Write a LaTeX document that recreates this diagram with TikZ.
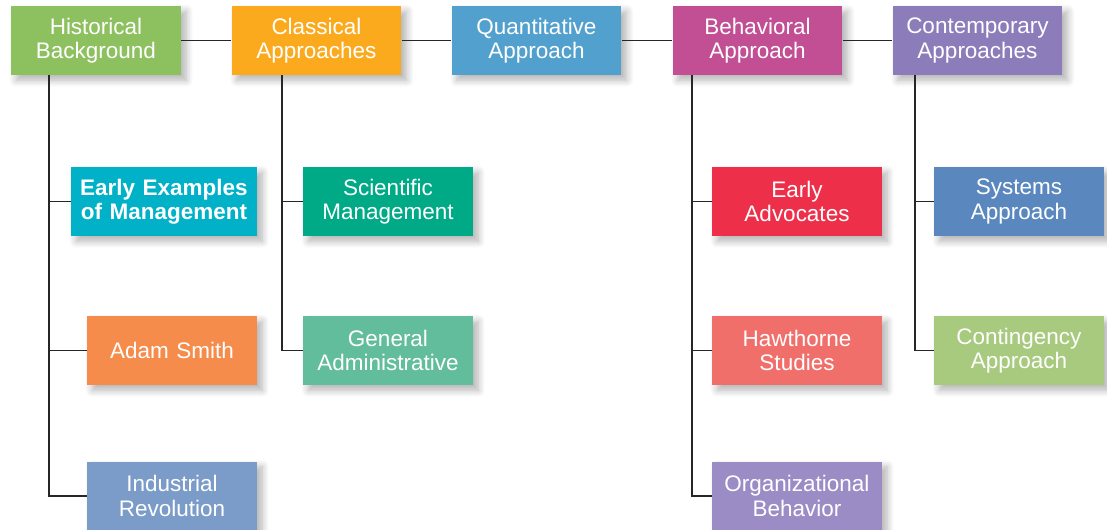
\documentclass[tikz,border=0pt]{standalone}
\usepackage{fontspec}
\setmainfont{Liberation Sans}
\usepackage{tikz}
\usetikzlibrary{shadows.blur}

\definecolor{histgreen}{HTML}{8DC05F}
\definecolor{classorange}{HTML}{FBAA1E}
\definecolor{quantblue}{HTML}{52A0CD}
\definecolor{behavpink}{HTML}{C24E94}
\definecolor{contpurple}{HTML}{8C7DBA}
\definecolor{earlycyan}{HTML}{00B1C8}
\definecolor{smithorange}{HTML}{F58C4B}
\definecolor{indublue}{HTML}{7B9BC8}
\definecolor{scigreen}{HTML}{00AA87}
\definecolor{gengreen}{HTML}{62BD9D}
\definecolor{advred}{HTML}{EE2F4A}
\definecolor{hawsalmon}{HTML}{F06F6A}
\definecolor{orgpurple}{HTML}{9C8CC5}
\definecolor{sysblue}{HTML}{5A88BE}
\definecolor{contgreen}{HTML}{A7CA7E}

\begin{document}
\begin{tikzpicture}[x=0.02cm, y=-0.02cm,
   box/.style={minimum width=3.4cm, minimum height=1.38cm, inner sep=0pt,
      text width=3.3cm, align=center, text=white,
      font=\fontsize{12.8}{13.8}\selectfont,
      blur shadow={shadow xshift=3pt, shadow yshift=-3pt, shadow blur steps=8, shadow blur radius=4pt, shadow opacity=30}},
   link/.style={draw=black!85, line width=0.8pt}]

   \useasboundingbox (0,0) rectangle (1107,529);

   % top row
   \node[box, fill=histgreen] (hb) at (96,40.5) {Historical\\Background};
   \node[box, fill=classorange] (ca) at (316.5,40.5) {Classical\\Approaches};
   \node[box, fill=quantblue] (qa) at (536.5,40.5) {Quantitative\\Approach};
   \node[box, fill=behavpink] (ba) at (757.5,40.5) {Behavioral\\Approach};
   \node[box, fill=contpurple] (co) at (977.5,40.5) {Contemporary\\Approaches};

   % branches
   \node[box, fill=earlycyan, minimum width=3.72cm, text width=3.6cm, font=\fontsize{12.8}{13.8}\selectfont\bfseries] (ee) at (164,201.5) {Early Examples\\of Management};
   \node[box, fill=smithorange] (as) at (172,350.5) {Adam Smith};
   \node[box, fill=indublue] (ir) at (172,496) {Industrial\\Revolution};

   \node[box, fill=scigreen] (sm) at (388,201.5) {Scientific\\Management};
   \node[box, fill=gengreen] (ga) at (388,350.5) {General\\Administrative};

   \node[box, fill=advred] (ea) at (797,201.5) {Early\\Advocates};
   \node[box, fill=hawsalmon] (hs) at (797,350.5) {Hawthorne\\Studies};
   \node[box, fill=orgpurple] (ob) at (797,496) {Organizational\\Behavior};

   \node[box, fill=sysblue] (sy) at (1019,201.5) {Systems\\Approach};
   \node[box, fill=contgreen] (cy) at (1019,350.5) {Contingency\\Approach};

   % connectors
   \draw[link] (hb) -- (ca);
   \draw[link] (ca) -- (qa);
   \draw[link] (qa) -- (ba);
   \draw[link] (ba) -- (co);

   \coordinate (hbx) at (49,0);
   \coordinate (cax) at (282,0);
   \coordinate (bax) at (692,0);
   \coordinate (cox) at (915,0);

   \draw[link] (hb.south -| hbx) |- (ir.west);
   \draw[link] (hbx |- ee.west) -- (ee.west);
   \draw[link] (hbx |- as.west) -- (as.west);

   \draw[link] (ca.south -| cax) |- (ga.west);
   \draw[link] (cax |- sm.west) -- (sm.west);

   \draw[link] (ba.south -| bax) |- (ob.west);
   \draw[link] (bax |- ea.west) -- (ea.west);
   \draw[link] (bax |- hs.west) -- (hs.west);

   \draw[link] (co.south -| cox) |- (cy.west);
   \draw[link] (cox |- sy.west) -- (sy.west);

\end{tikzpicture}
\end{document}
